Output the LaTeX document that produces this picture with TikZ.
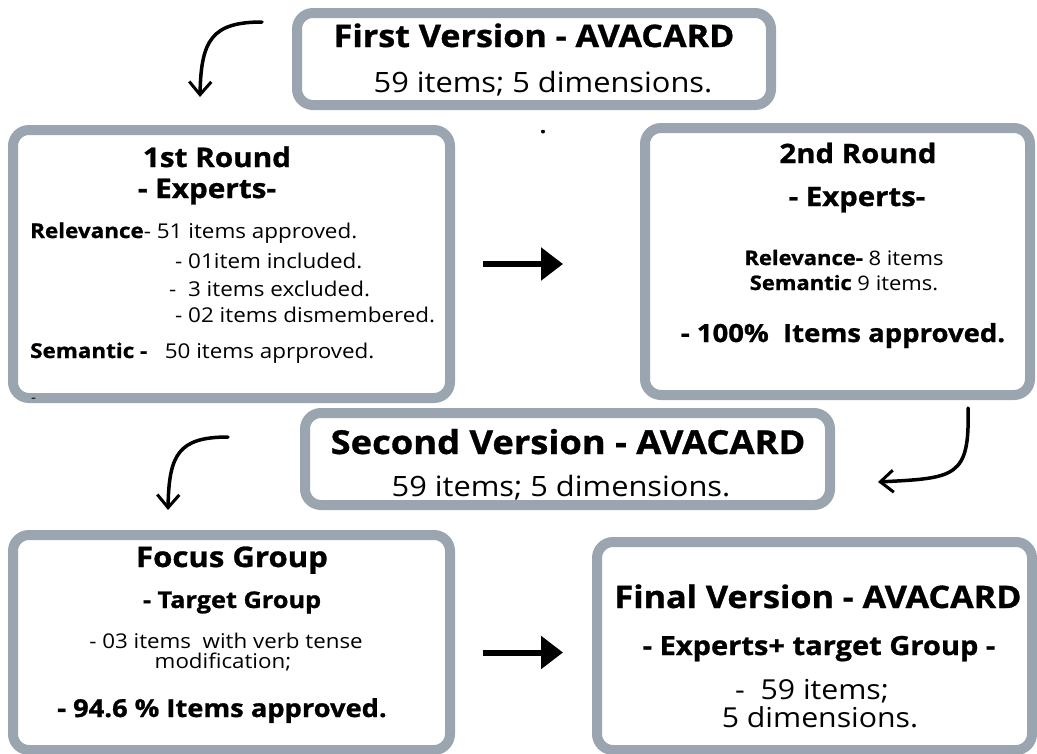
\documentclass[tikz,border=0pt]{standalone}
\usepackage{fontspec}
\setmainfont{Open Sans}[FakeStretch=1.1,BoldFeatures={FakeBold=1}]
\usetikzlibrary{arrows.meta,positioning}

\definecolor{boxgray}{RGB}{154,165,176}
\newcommand{\fs}[1]{\fontsize{#1}{#1}\selectfont}

\begin{document}
\begin{tikzpicture}[x=1pt,y=-1pt,
	stage/.style={draw=boxgray,line width=10pt,rounded corners=16pt,fill=white,inner sep=0pt},
	txt/.style={anchor=base,inner sep=0pt},
	lefttxt/.style={anchor=base west,inner sep=0pt},
	hand/.style={line width=3.5pt,line cap=round,-{Straight Barb[length=13pt,width=22pt,line width=3pt]}},
	bigarrow/.style={line width=6pt,-{Triangle[length=22pt,width=32pt]}}]

\useasboundingbox (0,0) rectangle (1037,753);

% stage boxes
\node[stage,minimum width=474pt,minimum height=92pt] (v1) at (534,59) {};
\node[stage,minimum width=437pt,minimum height=268pt] (r1) at (231.5,264) {};
\node[stage,minimum width=385pt,minimum height=267pt] (r2) at (837.5,261.5) {};
\node[stage,minimum width=525pt,minimum height=92pt] (v2) at (567.5,459) {};
\node[stage,minimum width=437pt,minimum height=215pt] (fg) at (231.5,642.5) {};
\node[stage,minimum width=435pt,minimum height=208pt] (vf) at (814.5,646) {};

% first version
\node[txt,font=\bfseries\fs{31}] (v1a) at (534,47) {First Version - AVACARD};
\node[txt,font=\fs{28}] (v1b) at (543,92) {59 items; 5 dimensions.};
\node[txt,font=\bfseries\fs{20}] (dot) at (543,133) {.};

% 1st round
\node[txt,font=\bfseries\fs{27}] (r1a) at (217,167) {1st Round};
\node[txt,font=\bfseries\fs{27}] (r1b) at (207,198) {- Experts-};
\node[lefttxt,font=\fs{20.4}] (r1c) at (30,238) {\textbf{Relevance}- 51 items approved.};
\node[lefttxt,font=\fs{20.4}] (r1d) at (175,268) {- 01item included.};
\node[lefttxt,font=\fs{20.4}] (r1e) at (169,296) {-\ \ 3 items excluded.};
\node[lefttxt,font=\fs{20.4}] (r1f) at (175,322) {- 02 items dismembered.};
\node[lefttxt,font=\fs{20.4}] (r1g) at (30,358) {\textbf{Semantic -}\ \ \ 50 items aprproved.};
\node[lefttxt,font=\fs{14}] (r1h) at (31,402) {-};

% 2nd round
\node[txt,font=\bfseries\fs{26.7}] (r2a) at (858,163) {2nd Round};
\node[txt,font=\bfseries\fs{26.7}] (r2b) at (857,206) {- Experts-};
\node[txt,font=\fs{20}] (r2c) at (844,265) {\textbf{Relevance-} 8 items};
\node[txt,font=\fs{20}] (r2d) at (844,290) {\textbf{Semantic} 9 items.};
\node[txt,font=\bfseries\fs{25}] (r2e) at (843,342) {- 100\%\ \ Items approved.};

% second version
\node[txt,font=\bfseries\fs{33}] (v2a) at (568,454) {Second Version - AVACARD};
\node[txt,font=\fs{28}] (v2b) at (561,496) {59 items; 5 dimensions.};

% focus group
\node[txt,font=\bfseries\fs{28.3}] (fga) at (232,567) {Focus Group};
\node[txt,font=\bfseries\fs{23}] (fgb) at (232,608) {- Target Group};
\node[txt,font=\fs{20.3}] (fgc) at (226,648) {- 03 items\ \ with verb tense};
\node[txt,font=\fs{20.3}] (fgd) at (223,668) {modification;};
\node[txt,font=\bfseries\fs{24.8}] (fge) at (222,717) {- 94.6 \% Items approved.};

% final version
\node[txt,font=\bfseries\fs{31}] (vfa) at (818,608) {Final Version - AVACARD};
\node[txt,font=\bfseries\fs{26.4}] (vfb) at (819,655) {- Experts+ target Group -};
\node[txt,font=\fs{27.5}] (vfc) at (812,699) {-\ \ 59 items;};
\node[txt,font=\fs{27.5}] (vfd) at (820,727) {5 dimensions.};

% hand drawn arrows
\coordinate (a1s) at (262,22);
\coordinate (a1e) at (200,97);
\coordinate (a2s) at (968,408);
\coordinate (a2e) at (878,482);
\coordinate (a3s) at (228,437);
\coordinate (a3e) at (168,510);
\draw[hand] (a1s) .. controls (212,22) and (201,40) .. (a1e);
\draw[hand] (a2s) .. controls (970,478) and (955,478) .. (a2e);
\draw[hand] (a3s) .. controls (178,437) and (169,455) .. (a3e);

% straight arrows
\draw[bigarrow,shorten <=28pt,shorten >=77pt] (r1.east) -- (r1.east -| r2.west);
\draw[bigarrow,shorten <=28pt,shorten >=29pt] ([yshift=-10pt]fg.east) -- ([yshift=-10pt]fg.east -| vf.west);

\end{tikzpicture}
\end{document}
